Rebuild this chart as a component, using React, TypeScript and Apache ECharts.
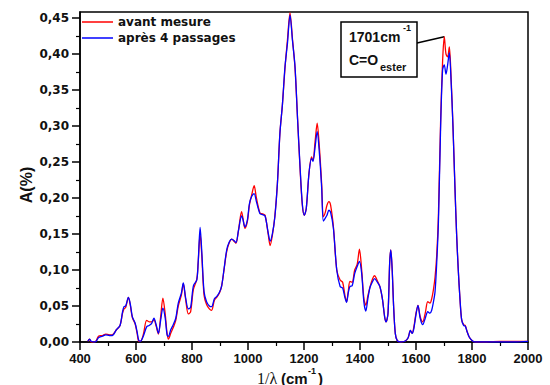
import React, { useEffect, useRef } from "react";
import * as echarts from "echarts";

const wavenumbers = [
  428, 434, 440, 450, 458, 466, 480, 492, 505, 515, 530, 543, 552, 557, 563, 573, 580, 587, 597, 604,
  610, 616, 626, 638, 647, 656, 664, 672, 680, 688, 696, 704, 711, 716, 724, 733, 742, 751, 762, 769,
  777, 787, 795, 805, 817, 822, 829, 835, 843, 852, 862, 870, 880, 888, 898, 906, 915, 924, 933, 942,
  950, 957, 966, 977, 982, 989, 998, 1005, 1013, 1022, 1030, 1043, 1052, 1061, 1072, 1079, 1087, 1096, 1105, 1114,
  1123, 1132, 1141, 1150, 1159, 1168, 1177, 1186, 1194, 1201, 1208, 1218, 1227, 1232, 1240, 1247, 1255, 1263, 1269, 1276,
  1282, 1289, 1295, 1305, 1317, 1329, 1338, 1346, 1352, 1358, 1364, 1372, 1381, 1390, 1398, 1406, 1414, 1421, 1428, 1436,
  1445, 1452, 1462, 1471, 1480, 1488, 1493, 1500, 1506, 1510, 1515, 1520, 1526, 1533, 1545, 1560, 1572, 1580, 1586, 1592,
  1600, 1607, 1615, 1624, 1633, 1642, 1650, 1656, 1662, 1668, 1674, 1680, 1688, 1695, 1701, 1707, 1713, 1719, 1725, 1732,
  1739, 1745, 1751, 1757, 1763, 1770, 1776, 1782, 1790, 1800, 1810, 1850, 1900, 1950, 2000,
];

const avantMesure = [
  0.001, 0.004, 0.0, 0.0, 0.002, 0.008, 0.009, 0.011, 0.01, 0.01, 0.017, 0.023, 0.04, 0.046, 0.048, 0.062, 0.05, 0.034, 0.025, 0.012,
  0.001, 0.001, 0.01, 0.03, 0.028, 0.028, 0.031, 0.022, 0.011, 0.035, 0.061, 0.04, 0.012, 0.004, 0.012, 0.02, 0.03, 0.05, 0.065, 0.081,
  0.06, 0.039, 0.042, 0.073, 0.087, 0.11, 0.15, 0.12, 0.065, 0.052, 0.046, 0.044, 0.058, 0.062, 0.068, 0.078, 0.102, 0.126, 0.138, 0.143,
  0.14, 0.137, 0.155, 0.181, 0.172, 0.158, 0.168, 0.19, 0.204, 0.217, 0.2, 0.179, 0.178, 0.176, 0.15, 0.134, 0.148, 0.175, 0.22, 0.29,
  0.33, 0.38, 0.42, 0.457, 0.42, 0.38, 0.31, 0.24, 0.19, 0.176, 0.185, 0.235, 0.257, 0.252, 0.28, 0.304, 0.27, 0.22, 0.174, 0.18,
  0.19, 0.195, 0.19, 0.16, 0.1, 0.086, 0.083, 0.065, 0.056, 0.07, 0.084, 0.083, 0.1, 0.108, 0.129, 0.1, 0.06, 0.051, 0.064, 0.077,
  0.088, 0.092, 0.085, 0.077, 0.06, 0.035, 0.028, 0.04, 0.11, 0.128, 0.1, 0.05, 0.012, 0.002, 0.0, 0.001, 0.006, 0.016, 0.012, 0.02,
  0.04, 0.051, 0.035, 0.028, 0.04, 0.056, 0.054, 0.06, 0.072, 0.09, 0.12, 0.175, 0.308, 0.39, 0.424, 0.4, 0.396, 0.41, 0.37, 0.3,
  0.216, 0.15, 0.1, 0.06, 0.031, 0.024, 0.023, 0.015, 0.007, 0.002, 0.0, 0.0, 0.001, 0.001, 0.001,
];

const apres4Passages = [
  0.001, 0.004, 0.001, 0.0, 0.001, 0.006, 0.008, 0.01, 0.009, 0.009, 0.017, 0.023, 0.042, 0.049, 0.05, 0.062, 0.052, 0.035, 0.026, 0.014,
  0.002, 0.001, 0.008, 0.021, 0.023, 0.026, 0.033, 0.024, 0.012, 0.03, 0.047, 0.034, 0.01, 0.008, 0.017, 0.024, 0.033, 0.054, 0.068, 0.082,
  0.062, 0.046, 0.048, 0.078, 0.086, 0.11, 0.159, 0.125, 0.07, 0.056, 0.05, 0.049, 0.06, 0.063, 0.069, 0.078, 0.103, 0.128, 0.139, 0.143,
  0.141, 0.138, 0.155, 0.175, 0.17, 0.16, 0.17, 0.192, 0.202, 0.206, 0.195, 0.178, 0.177, 0.175, 0.152, 0.14, 0.15, 0.174, 0.22, 0.29,
  0.33, 0.382, 0.415, 0.454, 0.418, 0.382, 0.31, 0.243, 0.192, 0.176, 0.185, 0.235, 0.255, 0.251, 0.272, 0.292, 0.262, 0.215, 0.168, 0.172,
  0.176, 0.183, 0.18, 0.158, 0.1, 0.077, 0.075, 0.062, 0.055, 0.068, 0.077, 0.078, 0.095, 0.105, 0.112, 0.095, 0.055, 0.043, 0.06, 0.076,
  0.084, 0.088, 0.083, 0.077, 0.06, 0.035, 0.028, 0.04, 0.11, 0.128, 0.1, 0.05, 0.012, 0.002, 0.0, 0.001, 0.006, 0.016, 0.012, 0.018,
  0.038, 0.051, 0.033, 0.024, 0.033, 0.042, 0.04, 0.044, 0.055, 0.07, 0.11, 0.165, 0.3, 0.378, 0.385, 0.372, 0.385, 0.402, 0.365, 0.3,
  0.216, 0.15, 0.1, 0.06, 0.031, 0.023, 0.022, 0.015, 0.007, 0.002, 0.0, 0.0, 0.0, 0.0, 0.001,
];

const yTickValues = [0, 0.05, 0.1, 0.15, 0.2, 0.25, 0.3, 0.35, 0.4, 0.45];
const seriesNames = ["avant mesure", "après 4 passages"];
const annotationPeak = [1701, 0.424];

export default function App() {
  const ref = useRef<HTMLDivElement>(null);
  useEffect(() => {
    if (!ref.current) return;
    const chart = echarts.init(ref.current, null, { renderer: "svg" });
    const pair = (ys: number[]) => wavenumbers.map((x, i) => [x, ys[i]]);
    const sansBold = "Liberation Sans";
    chart.setOption({
      animation: false,
      backgroundColor: "#ffffff",
      grid: {
        left: 80,
        right: 22,
        top: 12,
        bottom: 43,
        show: true,
        borderColor: "#000",
        borderWidth: 1.5,
      },
      legend: {
        orient: "vertical",
        left: 82,
        top: 16,
        padding: 0,
        icon: "rect",
        itemWidth: 31,
        itemHeight: 1.5,
        itemGap: 4,
        textStyle: { fontFamily: "DejaVu Sans", fontWeight: "bold", fontSize: 12, color: "#111" },
        data: seriesNames,
      },
      xAxis: {
        type: "value",
        min: 400,
        max: 2000,
        interval: 200,
        axisLine: { lineStyle: { color: "#000", width: 1.5 } },
        axisTick: { show: true, length: 8, lineStyle: { color: "#000", width: 1.5 } },
        minorTick: { show: true, splitNumber: 2, length: 4, lineStyle: { color: "#000", width: 1.2 } },
        axisLabel: {
          color: "#111",
          fontFamily: sansBold,
          fontWeight: "bold",
          fontSize: 13,
          margin: 10,
          formatter: (v: number) => String(v),
        },
        splitLine: { show: false },
      },
      yAxis: {
        type: "value",
        min: 0,
        max: 0.4583,
        interval: 0.05,
        axisLine: { show: true, lineStyle: { color: "#000", width: 1.5 } },
        axisTick: { show: true, length: 8, lineStyle: { color: "#000", width: 1.5 }, customValues: yTickValues },
        minorTick: { show: true, splitNumber: 2, length: 4, lineStyle: { color: "#000", width: 1.2 } },
        axisLabel: {
          color: "#111",
          fontFamily: "DejaVu Sans",
          fontWeight: "bold",
          fontSize: 12,
          margin: 11,
          customValues: yTickValues,
          formatter: (v: number) => v.toFixed(2).replace(".", ","),
        },
        splitLine: { show: false },
      },
      series: [
        {
          name: seriesNames[0],
          type: "line",
          data: pair(avantMesure),
          symbol: "none",
          smooth: 0.3,
          lineStyle: { color: "#ff0000", width: 1.3 },
          itemStyle: { color: "#ff0000" },
        },
        {
          name: seriesNames[1],
          type: "line",
          data: pair(apres4Passages),
          symbol: "none",
          smooth: 0.3,
          lineStyle: { color: "#0000ff", width: 1.3 },
          itemStyle: { color: "#0000ff" },
        },
      ],
    });
    const peak = chart.convertToPixel({ gridIndex: 0 }, annotationPeak) as number[];
    const boxX = 341, boxY = 22, boxW = 76, boxH = 55;
    chart.setOption({
      graphic: [
        {
          type: "text",
          x: 26,
          y: 185,
          rotation: Math.PI / 2,
          style: { text: "A(%)", font: "bold 16px 'Liberation Sans'", fill: "#111", align: "center", verticalAlign: "middle" },
        },
        {
          type: "text",
          x: 257,
          y: 378,
          style: { text: "1/λ", font: "16px 'Liberation Serif'", fill: "#111", align: "left", verticalAlign: "middle" },
        },
        {
          type: "text",
          x: 281,
          y: 378,
          style: { text: "(cm", font: "bold 15px 'Liberation Sans'", fill: "#111", align: "left", verticalAlign: "middle" },
        },
        {
          type: "text",
          x: 308,
          y: 371,
          style: { text: "-1", font: "bold 9px 'Liberation Sans'", fill: "#111", align: "left", verticalAlign: "middle" },
        },
        {
          type: "text",
          x: 318,
          y: 378,
          style: { text: ")", font: "bold 15px 'Liberation Sans'", fill: "#111", align: "left", verticalAlign: "middle" },
        },
        {
          type: "line",
          shape: { x1: boxX + boxW, y1: 43, x2: peak[0], y2: peak[1] },
          style: { stroke: "#000", lineWidth: 1.5 },
        },
        {
          type: "rect",
          shape: { x: boxX, y: boxY, width: boxW, height: boxH },
          style: { fill: "#fff", stroke: "#000", lineWidth: 1.5 },
        },
        {
          type: "text",
          x: 349,
          y: 37,
          style: { text: "1701cm", font: "bold 14px 'Liberation Sans'", fill: "#111", align: "left", verticalAlign: "middle" },
        },
        {
          type: "text",
          x: 403,
          y: 28,
          style: { text: "-1", font: "bold 9px 'Liberation Sans'", fill: "#111", align: "left", verticalAlign: "middle" },
        },
        {
          type: "text",
          x: 349,
          y: 60,
          style: { text: "C=O", font: "bold 14px 'Liberation Sans'", fill: "#111", align: "left", verticalAlign: "middle" },
        },
        {
          type: "text",
          x: 380,
          y: 67,
          style: { text: "ester", font: "bold 11px 'Liberation Sans'", fill: "#111", align: "left", verticalAlign: "middle" },
        },
      ],
    });
    return () => chart.dispose();
  }, []);
  return (
    <div style={{ position: "fixed", left: 0, top: 0, width: 550, height: 385, background: "#fff" }}>
      <div ref={ref} style={{ width: 550, height: 385 }} />
    </div>
  );
}
